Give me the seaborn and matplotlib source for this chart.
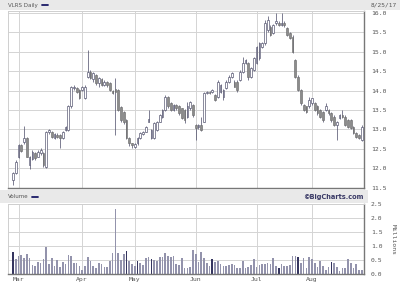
import numpy as np
import pandas as pd
import matplotlib
matplotlib.use("Agg")
import matplotlib.pyplot as plt
from matplotlib.patches import Rectangle
from matplotlib.lines import Line2D
import seaborn as sns

# ---------------- data ----------------
open_ = [11.70, 11.88, 12.30, 12.60, 12.68, 12.77, 12.08, 12.25, 12.38, 12.30,
         12.40, 12.40, 12.04, 12.94, 12.94, 12.78, 12.86, 12.86, 12.77, 12.98,
         12.98, 13.59, 14.06, 14.06, 14.02, 14.02, 13.80, 14.36, 14.49, 14.30,
         14.40, 14.20, 14.30, 14.15, 14.22, 14.20, 14.00, 14.05, 14.02, 13.58,
         13.45, 13.24, 12.77, 12.64, 12.55, 12.64, 12.77, 12.88, 12.94, 13.20,
         12.77, 12.77, 12.98, 13.20, 13.33, 13.50, 13.84, 13.67, 13.50, 13.63,
         13.59, 13.54, 13.50, 13.33, 13.54, 13.63, 13.11, 13.05, 13.11, 13.20,
         13.93, 13.97, 13.97, 13.89, 13.84, 13.97, 13.84, 14.06, 14.23, 14.36,
         14.23, 14.23, 14.27, 14.49, 14.70, 14.70, 14.36, 14.53, 14.70, 14.83,
         15.13, 15.22, 15.56, 15.65, 15.48, 15.73, 15.73, 15.69, 15.74, 15.60,
         15.48, 15.39, 14.79, 14.36, 14.02, 13.63, 13.59, 13.59, 13.67, 13.67,
         13.59, 13.50, 13.46, 13.50, 13.50, 13.41, 13.33, 13.11, 13.29, 13.37,
         13.33, 13.24, 13.24, 13.07, 12.90, 12.86, 12.73]
close = [11.87, 12.17, 12.60, 12.45, 12.77, 12.30, 12.30, 12.43, 12.27, 12.43,
         12.47, 12.08, 12.94, 12.98, 12.81, 12.88, 12.81, 12.77, 12.94, 13.07,
         13.59, 14.10, 14.10, 13.97, 13.80, 14.10, 14.10, 14.49, 14.32, 14.45,
         14.19, 14.32, 14.15, 14.23, 14.14, 14.02, 13.93, 13.97, 13.50, 13.24,
         13.20, 12.77, 12.64, 12.60, 12.62, 12.77, 12.90, 12.94, 13.07, 13.26,
         12.98, 13.16, 13.20, 13.37, 13.50, 13.84, 13.59, 13.50, 13.63, 13.54,
         13.41, 13.29, 13.24, 13.59, 13.71, 13.37, 13.03, 13.11, 12.99, 13.93,
         13.97, 13.93, 14.02, 13.76, 14.23, 14.14, 14.02, 14.23, 14.36, 14.44,
         14.10, 14.02, 14.49, 14.70, 14.79, 14.36, 14.57, 14.83, 15.13, 15.22,
         15.22, 15.73, 15.82, 15.43, 15.69, 15.78, 15.69, 15.74, 15.69, 15.43,
         15.35, 15.00, 14.36, 14.02, 13.67, 13.50, 13.46, 13.76, 13.80, 13.50,
         13.41, 13.33, 13.24, 13.59, 13.41, 13.24, 13.11, 13.20, 13.37, 13.33,
         13.11, 13.07, 13.03, 12.90, 12.81, 12.77, 13.07]
high = [11.90, 12.20, 12.62, 12.63, 13.10, 12.80, 12.32, 12.46, 12.42, 12.46,
        12.52, 12.43, 12.97, 13.02, 12.96, 12.90, 12.90, 12.88, 12.96, 13.10,
        13.62, 14.12, 14.14, 14.10, 14.04, 14.12, 14.14, 15.05, 14.52, 14.48,
        14.42, 14.35, 14.33, 14.26, 14.25, 14.23, 14.02, 14.32, 14.05, 13.60,
        13.48, 13.27, 12.80, 12.66, 12.65, 12.80, 12.93, 12.96, 13.10, 13.50,
        13.00, 13.18, 13.22, 13.40, 13.52, 13.89, 13.86, 13.70, 13.66, 13.66,
        13.62, 13.56, 13.52, 13.71, 13.74, 13.65, 13.14, 13.14, 13.33, 13.96,
        14.00, 14.00, 14.05, 13.92, 14.27, 14.17, 14.04, 14.26, 14.40, 14.47,
        14.26, 14.26, 14.52, 14.87, 14.82, 14.73, 14.60, 14.86, 15.16, 15.25,
        15.26, 15.82, 15.91, 15.68, 15.72, 15.99, 15.78, 15.99, 15.78, 15.63,
        15.50, 15.42, 14.82, 14.40, 14.05, 13.66, 13.61, 13.84, 13.82, 13.70,
        13.62, 13.52, 13.48, 13.67, 13.52, 13.44, 13.36, 13.22, 13.40, 13.50,
        13.36, 13.27, 13.27, 13.10, 12.92, 12.88, 13.11]
low = [11.57, 11.85, 12.26, 12.42, 12.62, 12.28, 11.97, 12.20, 12.22, 12.28,
       12.34, 12.04, 12.00, 12.88, 12.78, 12.75, 12.78, 12.51, 12.74, 12.95,
       12.95, 13.55, 14.02, 13.95, 13.78, 13.98, 13.78, 14.32, 14.30, 14.22,
       14.15, 14.10, 14.12, 14.12, 14.10, 14.00, 13.90, 12.86, 13.47, 13.20,
       13.15, 12.74, 12.56, 12.52, 12.51, 12.60, 12.74, 12.86, 12.92, 13.18,
       12.74, 12.75, 12.95, 13.18, 13.30, 13.48, 13.55, 13.47, 13.48, 13.50,
       13.38, 13.26, 13.16, 13.30, 13.50, 13.33, 12.73, 13.00, 12.96, 13.18,
       13.90, 13.90, 13.95, 13.72, 13.80, 13.94, 13.76, 14.03, 14.20, 14.33,
       14.08, 13.97, 14.24, 14.46, 14.68, 14.27, 14.33, 14.50, 14.68, 14.80,
       15.10, 15.18, 15.52, 15.40, 15.45, 15.70, 15.66, 15.66, 15.64, 15.40,
       15.32, 14.97, 14.33, 13.99, 13.64, 13.47, 13.41, 13.56, 13.64, 13.47,
       13.38, 13.30, 13.20, 13.47, 13.38, 13.20, 13.08, 12.73, 13.26, 13.30,
       13.08, 13.04, 13.00, 12.87, 12.78, 12.74, 12.70]
volume = [0.80, 0.52, 0.65, 0.68, 0.56, 0.71, 0.58, 0.32, 0.30, 0.44,
          0.38, 0.52, 0.96, 0.36, 0.56, 0.30, 0.50, 0.26, 0.43, 0.36,
          0.68, 0.65, 0.38, 0.38, 0.29, 0.14, 0.29, 0.62, 0.48, 0.29,
          0.23, 0.38, 0.35, 0.24, 0.24, 0.48, 0.74, 2.32, 0.74, 0.50,
          0.71, 0.83, 0.46, 0.36, 0.29, 0.46, 0.40, 0.32, 0.56, 0.62,
          0.54, 0.50, 0.48, 0.60, 0.60, 0.74, 0.64, 0.62, 0.64, 0.36,
          0.32, 0.56, 0.23, 0.23, 0.26, 0.86, 0.71, 0.44, 0.80, 0.56,
          0.40, 0.29, 0.54, 0.44, 0.48, 0.35, 0.29, 0.29, 0.32, 0.35,
          0.31, 0.20, 0.20, 0.48, 0.20, 0.26, 0.32, 0.52, 0.26, 0.32,
          0.35, 0.36, 0.40, 0.36, 0.56, 0.29, 0.23, 0.35, 0.29, 0.29,
          0.31, 0.64, 0.64, 0.62, 0.38, 0.56, 0.20, 0.60, 0.52, 0.38,
          0.26, 0.48, 0.29, 0.14, 0.26, 0.44, 0.40, 0.26, 0.12, 0.20,
          0.23, 0.52, 0.40, 0.20, 0.35, 0.14, 0.16]
dark_bars = [0, 41, 45, 50, 72, 96, 103, 115]
month_labels = ["Mar", "Apr", "May", "Jun", "Jul", "Aug"]
month_start_idx = [2, 25, 44, 66, 88, 108]
price_ticks = [11.5, 12.0, 12.5, 13.0, 13.5, 14.0, 14.5, 15.0, 15.5, 16.0]
vol_ticks = [0.0, 0.5, 1.0, 1.5, 2.0, 2.5]

n = len(close)
idx = np.arange(n)
df = pd.DataFrame({"day": idx, "open": open_, "close": close, "high": high,
                   "low": low, "volume": volume})
df["shade"] = np.where(df["day"].isin(dark_bars), "dark", "light")

# ---------------- figure ----------------
sns.set_style("white")
plt.rcParams["font.family"] = ["DejaVu Sans Mono", "DejaVu Sans"]
W, H = 400, 284
fig = plt.figure(figsize=(W / 100, H / 100), dpi=100)

def fx(px):
    return px / W

def fy(py):
    return 1 - py / H

band = "#e9e9e9"
fig.patches.append(Rectangle((0, fy(10)), 1, fy(0) - fy(10), transform=fig.transFigure,
                             facecolor=band, edgecolor="none", zorder=0))
fig.patches.append(Rectangle((0, fy(203)), fx(368), fy(190) - fy(203), transform=fig.transFigure,
                             facecolor=band, edgecolor="none", zorder=0))

txt = "#555555"
navy = "#1a1a66"
fig.text(fx(8), fy(5), "VLRS Daily", fontsize=4.0, color=txt, va="center", ha="left",
         family="DejaVu Sans")
fig.lines.append(Line2D([fx(42), fx(48)], [fy(5), fy(5)], transform=fig.transFigure,
                        color=navy, lw=1.3))
fig.text(fx(384), fy(5), "8/25/17", fontsize=4.4, color=txt, va="center", ha="center")
fig.text(fx(8), fy(197), "Volume", fontsize=4.0, color=txt, va="center", ha="left",
         family="DejaVu Sans")
fig.lines.append(Line2D([fx(32), fx(38)], [fy(197), fy(197)], transform=fig.transFigure,
                        color=navy, lw=1.3))
fig.text(fx(364), fy(197), "\u00a9BigCharts.com", fontsize=4.8, color="#3a3a66",
         va="center", ha="right", fontweight="bold", family="DejaVu Sans")
fig.text(fx(393), fy(240), "Millions", fontsize=4.6, color=txt, va="center", ha="center",
         rotation=270)

# price axes
ax = fig.add_axes([fx(8), fy(188), fx(364) - fx(8), fy(11) - fy(188)])
ax.set_xlim(-1.8, n - 0.2)
ax.set_ylim(11.49, 16.05)

grid_c = "#d4d4d4"
for p in price_ticks:
    ax.axhline(p, color=grid_c, lw=0.7, zorder=0)
for m in month_start_idx:
    ax.axvline(m, color=grid_c, lw=0.7, zorder=0)

edge = "#4a4a66"
up = df["close"] >= df["open"]
ax.vlines(df["day"], df["low"], df["high"], color=edge, lw=0.5, zorder=2)
body_bottom = np.minimum(df["open"], df["close"])
body_h = np.maximum(np.abs(df["close"] - df["open"]), 0.02)
ax.bar(df["day"][up], body_h[up], bottom=body_bottom[up], width=0.62,
       color="white", edgecolor=edge, linewidth=0.45, zorder=3)
ax.bar(df["day"][~up], body_h[~up], bottom=body_bottom[~up], width=0.62,
       color="#8c8c8c", edgecolor="#6e6e6e", linewidth=0.45, zorder=3)

ax.yaxis.tick_right()
ax.set_yticks(price_ticks)
ax.set_yticklabels([f"{p:.1f}" for p in price_ticks])
ax.set_xticks([])
ax.tick_params(axis="x", bottom=False, labelbottom=False)
ax.tick_params(axis="y", labelsize=4.6, colors=txt, length=0, pad=5)
for s in ["left", "top"]:
    ax.spines[s].set_color("#cfcfcf")
    ax.spines[s].set_linewidth(0.7)
for s in ["right", "bottom"]:
    ax.spines[s].set_color("#777777")
    ax.spines[s].set_linewidth(1.0)

# volume axes
axv = fig.add_axes([fx(8), fy(274), fx(364) - fx(8), fy(204) - fy(274)])
for v in vol_ticks:
    axv.axhline(v, color=grid_c, lw=0.7, zorder=0)
for m in month_start_idx:
    axv.axvline(m, color=grid_c, lw=0.7, zorder=0)
sns.barplot(data=df, x="day", y="volume", hue="shade", native_scale=True, dodge=False,
            palette={"light": "#8f8fb0", "dark": "#2e2e66"}, width=0.6,
            legend=False, ax=axv, zorder=2, linewidth=0)
axv.set_xlim(-1.8, n - 0.2)
axv.set_ylim(0, 2.5)
axv.yaxis.tick_right()
axv.set_yticks(vol_ticks)
axv.set_yticklabels([f"{v:.1f}" for v in vol_ticks])
axv.set_xticks(month_start_idx)
axv.set_xticklabels(month_labels)
axv.tick_params(axis="y", labelsize=4.6, colors=txt, length=0, pad=5)
axv.tick_params(axis="x", labelsize=4.6, colors=txt, length=0, pad=2)
axv.set_xlabel("")
axv.set_ylabel("")
for s in ["left", "top"]:
    axv.spines[s].set_color("#cfcfcf")
    axv.spines[s].set_linewidth(0.7)
for s in ["right", "bottom"]:
    axv.spines[s].set_color("#777777")
    axv.spines[s].set_linewidth(1.0)

fig.savefig("out.png", dpi=100, facecolor="white")
